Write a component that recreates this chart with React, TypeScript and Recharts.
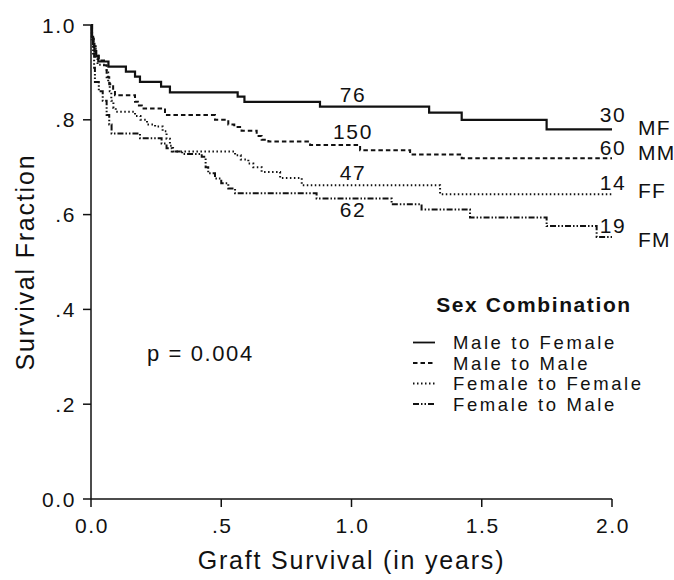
import { LineChart, Line, XAxis, YAxis } from 'recharts'

// Kaplan-Meier estimates: time in years, survival fraction
const mfTimes = [0, 0.004, 0.008, 0.013, 0.02, 0.028, 0.067, 0.134, 0.169, 0.188, 0.269, 0.303, 0.563, 0.589, 0.879, 1.298, 1.423, 1.749, 2.0]
const mfSurv = [1.0, 0.975, 0.96, 0.945, 0.935, 0.923, 0.912, 0.9015, 0.891, 0.88, 0.87, 0.858, 0.849, 0.838, 0.828, 0.815, 0.8, 0.78, 0.78]

const mmTimes = [0, 0.004, 0.01, 0.018, 0.03, 0.05, 0.06, 0.07, 0.085, 0.092, 0.169, 0.18, 0.195, 0.284, 0.476, 0.527, 0.55, 0.578, 0.636, 0.655, 0.681, 0.841, 1.033, 1.225, 1.423, 2.0]
const mmSurv = [1.0, 0.975, 0.955, 0.94, 0.925, 0.915, 0.89, 0.875, 0.862, 0.852, 0.838, 0.83, 0.824, 0.81, 0.8, 0.79, 0.785, 0.777, 0.766, 0.758, 0.754, 0.747, 0.736, 0.727, 0.719, 0.719]

const ffTimes = [0, 0.004, 0.01, 0.018, 0.025, 0.06, 0.066, 0.072, 0.078, 0.086, 0.095, 0.169, 0.19, 0.215, 0.246, 0.275, 0.29, 0.303, 0.315, 0.553, 0.575, 0.604, 0.623, 0.655, 0.726, 0.809, 1.34, 2.0]
const ffSurv = [1.0, 0.97, 0.95, 0.93, 0.916, 0.9, 0.88, 0.86, 0.84, 0.825, 0.817, 0.808, 0.8, 0.79, 0.786, 0.776, 0.76, 0.745, 0.733, 0.725, 0.716, 0.708, 0.7, 0.69, 0.677, 0.662, 0.643, 0.643]

const fmTimes = [0, 0.003, 0.008, 0.012, 0.015, 0.03, 0.045, 0.06, 0.07, 0.079, 0.188, 0.271, 0.29, 0.31, 0.35, 0.425, 0.44, 0.45, 0.476, 0.5, 0.527, 0.553, 0.866, 1.154, 1.269, 1.455, 1.749, 1.941, 2.0]
const fmSurv = [1.0, 0.97, 0.94, 0.91, 0.88, 0.86, 0.84, 0.81, 0.79, 0.771, 0.761, 0.75, 0.74, 0.733, 0.728, 0.722, 0.7, 0.687, 0.676, 0.666, 0.655, 0.645, 0.634, 0.622, 0.611, 0.594, 0.576, 0.553, 0.553]

const xTicks = [0, 0.5, 1, 1.5, 2]
const xTickLabels = ['0.0', '.5', '1.0', '1.5', '2.0']
const yTicks = [0, 0.2, 0.4, 0.6, 0.8, 1]
const yTickLabels = ['0.0', '.2', '.4', '.6', '.8', '1.0']

const legendNames = ['Male to Female', 'Male to Male', 'Female to Female', 'Female to Male']
const curveCodes = ['MF', 'MM', 'FF', 'FM']
const atRiskMid = ['76', '150', '47', '62']
const atRiskEnd = ['30', '60', '14', '19']

const toRows = (ts: number[], ss: number[]) => ts.map((t, i) => ({ t, s: ss[i] }))

const INK = '#111'
const FONT = '"Liberation Sans", Arial, Helvetica, sans-serif'
const dashes = [undefined, '4.5 3', '1.5 2.5', '6 2 1.5 2 1.5 2']
const series = [toRows(mfTimes, mfSurv), toRows(mmTimes, mmSurv), toRows(ffTimes, ffSurv), toRows(fmTimes, fmSurv)]

const XTick = ({ x, y, payload }: any) => (
  <text x={x + 1} y={y + 24} textAnchor="middle" fontSize={21} fill={INK} fontFamily={FONT} letterSpacing={1.6}>
    {xTickLabels[xTicks.indexOf(payload.value)]}
  </text>
)

const YTick = ({ x, y, payload }: any) => (
  <text x={x - 5} y={y + 7.5} textAnchor="end" fontSize={21} fill={INK} fontFamily={FONT} letterSpacing={1.6}>
    {yTickLabels[yTicks.findIndex((v) => Math.abs(v - payload.value) < 1e-6)]}
  </text>
)

// text positions (px) taken from the figure
const midY = [102, 139, 180, 217]
const endY = [122, 155, 190, 233]
const codeY = [135, 160, 198, 247]
const legendY = [349, 369.5, 390, 410.5]

export default function App() {
  return (
    <div style={{ position: 'absolute', left: 0, top: 0, width: 674, height: 580, background: '#fff' }}>
      <LineChart width={674} height={580} margin={{ top: 25, right: 62, left: 31, bottom: 31 }}>
        <XAxis
          type="number"
          dataKey="t"
          domain={[0, 2]}
          ticks={xTicks}
          interval={0}
          height={50}
          tickSize={8}
          tick={<XTick />}
          axisLine={{ stroke: INK, strokeWidth: 1.5 }}
          tickLine={{ stroke: INK, strokeWidth: 1.5 }}
        />
        <YAxis
          type="number"
          dataKey="s"
          domain={[0, 1]}
          ticks={yTicks}
          interval={0}
          width={60}
          tickSize={8}
          tick={<YTick />}
          axisLine={{ stroke: INK, strokeWidth: 1.5 }}
          tickLine={{ stroke: INK, strokeWidth: 1.5 }}
        />
        {series.map((d, i) => (
          <Line
            key={curveCodes[i]}
            data={d}
            dataKey="s"
            type="stepAfter"
            stroke={INK}
            strokeWidth={i === 0 ? 2.2 : 2}
            strokeDasharray={dashes[i]}
            dot={false}
            isAnimationActive={false}
          />
        ))}
      </LineChart>
      <svg width={674} height={580} style={{ position: 'absolute', left: 0, top: 0, pointerEvents: 'none' }} fontFamily={FONT} fill={INK}>
        <text x={351.5} y={569} textAnchor="middle" fontSize={25} letterSpacing={1.8}>
          Graft Survival (in years)
        </text>
        <text transform="translate(34,262) rotate(-90)" textAnchor="middle" fontSize={25} letterSpacing={1.8}>
          Survival Fraction
        </text>
        {atRiskMid.map((n, i) => (
          <text key={'m' + i} x={353} y={midY[i]} textAnchor="middle" fontSize={21} letterSpacing={1.6}>
            {n}
          </text>
        ))}
        {atRiskEnd.map((n, i) => (
          <text key={'e' + i} x={613} y={endY[i]} textAnchor="middle" fontSize={21} letterSpacing={1.6}>
            {n}
          </text>
        ))}
        {curveCodes.map((c, i) => (
          <text key={'c' + i} x={638} y={codeY[i]} fontSize={21} letterSpacing={1.2}>
            {c}
          </text>
        ))}
        <text x={147} y={361} fontSize={22} letterSpacing={1.6}>
          p = 0.004
        </text>
        <text x={534} y={312} textAnchor="middle" fontSize={21} fontWeight="bold" letterSpacing={1.6}>
          Sex Combination
        </text>
        {legendNames.map((name, i) => (
          <g key={name}>
            <line x1={413} x2={435} y1={legendY[i] - 6.5} y2={legendY[i] - 6.5} stroke={INK} strokeWidth={1.8} strokeDasharray={dashes[i]} />
            <text x={453} y={legendY[i]} fontSize={18.5} letterSpacing={2.6}>
              {name}
            </text>
          </g>
        ))}
      </svg>
    </div>
  )
}
